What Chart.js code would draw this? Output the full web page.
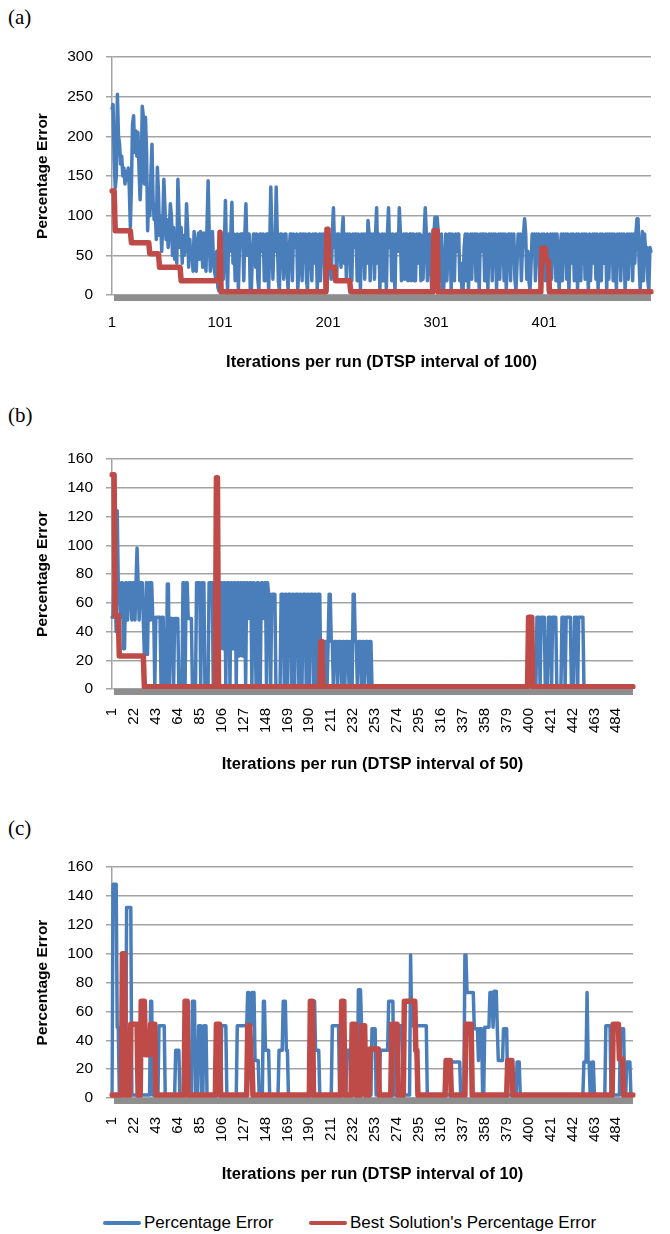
<!DOCTYPE html>
<html>
<head>
<meta charset="utf-8">
<script src="https://cdn.jsdelivr.net/npm/chart.js@4.4.1/dist/chart.umd.min.js"></script>
<style>
  body { margin: 0; background: #fff; }
  #page { position: relative; width: 670px; height: 1234px; overflow: hidden; background: #fff; }
  canvas { position: absolute; left: 0; }
  .panel { position: absolute; left: 8px; font-family: "Liberation Serif", "Times New Roman", serif; font-size: 21px; line-height: 1; color: #000; }
  #legend { position: absolute; top: 1212px; left: 0; width: 670px; height: 22px; font-family: "Liberation Sans", Arial, sans-serif; font-size: 17px; color: #000; }
  .key { position: absolute; top: 0; height: 22px; line-height: 22px; white-space: nowrap; }
  .swatch { display: inline-block; width: 38px; height: 4px; border-radius: 2px; vertical-align: middle; margin-right: 3px; position: relative; top: -1px; }
</style>
</head>
<body>
<div id="page">
  <div class="panel" style="top:7px">(a)</div>
  <canvas id="chartA" width="670" height="350" style="top:30px"></canvas>
  <div class="panel" style="top:405px">(b)</div>
  <canvas id="chartB" width="670" height="350" style="top:430px"></canvas>
  <div class="panel" style="top:818px">(c)</div>
  <canvas id="chartC" width="670" height="350" style="top:840px"></canvas>
  <div id="legend">
    <div class="key" style="left:103px"><span class="swatch" style="background:#4a7ebb"></span>Percentage Error</div>
    <div class="key" style="left:309px"><span class="swatch" style="background:#be4b48"></span>Best Solution's Percentage Error</div>
  </div>
</div>
<script>
// iterations 1..500 on the category axis
const iterations = Array.from({ length: 500 }, (_, i) => String(i + 1));

// tick labels shown on the x axes
const ticksA = ['1', '101', '201', '301', '401'];
const ticksBC = ['1', '22', '43', '64', '85', '106', '127', '148', '169', '190', '211', '232',
  '253', '274', '295', '316', '337', '358', '379', '400', '421', '442', '463', '484'];

// (a) percentage error, one value per iteration
const errorA = [
  235, 240, 170, 135, 150, 253, 200, 190, 165, 175, 150, 160, 140, 155, 145, 160, 135, 85, 140, 215,
  226, 180, 207, 175, 205, 160, 120, 150, 238, 225, 140, 224, 180, 81, 130, 100, 150, 190, 120, 95,
  110, 70, 161, 130, 75, 100, 55, 90, 146, 110, 70, 95, 60, 80, 115, 100, 50, 85, 45, 70,
  40, 146, 100, 60, 85, 40, 75, 50, 60, 115, 85, 35, 70, 45, 60, 30, 80, 50, 30, 65,
  78, 45, 80, 60, 35, 78, 55, 30, 90, 144, 75, 30, 55, 80, 40, 30, 20, 55, 10, 5,
  5, 40, 77, 20, 60, 119, 50, 5, 77, 55, 77, 117, 40, 77, 18, 55, 77, 5, 60, 77,
  77, 77, 18, 77, 115, 50, 77, 77, 5, 5, 55, 77, 77, 35, 77, 20, 5, 77, 77, 55,
  77, 18, 18, 77, 77, 5, 60, 136, 77, 20, 77, 55, 136, 77, 18, 5, 77, 77, 55, 20,
  77, 77, 40, 5, 55, 77, 77, 18, 77, 60, 60, 77, 5, 40, 77, 77, 18, 77, 55, 77,
  20, 5, 77, 77, 60, 18, 77, 40, 77, 77, 5, 55, 77, 18, 77, 60, 77, 20, 5, 5,
  40, 77, 55, 20, 77, 110, 60, 77, 18, 77, 77, 55, 35, 77, 98, 40, 77, 18, 77, 55,
  77, 18, 18, 77, 60, 77, 77, 18, 77, 55, 5, 77, 60, 77, 20, 77, 40, 94, 77, 18,
  77, 55, 77, 20, 77, 110, 40, 77, 5, 60, 77, 18, 77, 55, 5, 77, 110, 60, 77, 18,
  77, 40, 5, 77, 77, 55, 110, 77, 18, 60, 77, 20, 77, 77, 18, 75, 77, 18, 77, 77,
  18, 18, 77, 40, 77, 77, 18, 75, 20, 77, 110, 77, 18, 60, 77, 40, 5, 60, 77, 98,
  77, 98, 80, 18, 60, 77, 5, 5, 40, 77, 18, 55, 77, 77, 5, 77, 40, 18, 77, 55,
  77, 77, 18, 40, 5, 5, 60, 77, 18, 77, 5, 55, 77, 20, 77, 60, 77, 18, 77, 40,
  5, 77, 55, 77, 77, 18, 77, 60, 5, 77, 40, 77, 18, 77, 55, 77, 5, 60, 77, 20,
  77, 40, 77, 18, 77, 5, 55, 77, 77, 18, 77, 60, 77, 20, 5, 40, 77, 55, 77, 18,
  60, 77, 96, 77, 20, 55, 18, 5, 40, 77, 55, 77, 18, 77, 60, 77, 20, 5, 77, 55,
  77, 18, 60, 77, 5, 40, 77, 20, 77, 55, 77, 18, 77, 40, 5, 60, 77, 18, 77, 55,
  77, 20, 77, 5, 60, 77, 40, 77, 18, 55, 77, 5, 77, 60, 18, 77, 40, 77, 20, 77,
  55, 5, 77, 18, 60, 77, 40, 77, 20, 77, 5, 55, 77, 18, 77, 60, 40, 77, 5, 77,
  20, 77, 55, 77, 18, 77, 40, 5, 77, 60, 77, 18, 77, 55, 77, 5, 40, 77, 20, 77,
  60, 77, 18, 77, 40, 77, 96, 96, 40, 5, 60, 80, 18, 77, 55, 60, 20, 5, 60, 55
];

// step series: [first iteration index, value held until the next step]
const bestA = [[0, 131], [3, 81], [18, 66], [35, 52], [44, 35], [64, 18], [100, 79], [101, 4],
  [199, 83], [201, 35], [207, 18], [221, 4], [298, 81], [302, 4], [398, 59], [402, 43], [405, 4]];

const errorB = [[0, 50], [2, 74], [4, 40], [5, 124], [6, 74], [8, 50], [9, 74], [11, 28], [13, 74],
  [15, 48], [16, 74], [19, 48], [20, 74], [22, 48], [23, 74], [24, 98], [25, 74], [26, 48], [27, 74],
  [30, 48], [31, 24], [33, 74], [34, 24], [35, 74], [37, 48], [38, 74], [39, 50], [41, 2], [42, 50],
  [47, 2], [48, 50], [50, 2], [53, 73], [55, 2], [56, 49], [59, 2], [60, 49], [64, 2], [68, 74],
  [70, 2], [71, 74], [73, 49], [77, 2], [81, 74], [85, 2], [86, 74], [89, 2], [93, 74], [97, 2],
  [98, 74], [102, 2], [103, 74], [106, 28], [107, 74], [109, 2], [110, 74], [113, 2], [114, 74],
  [116, 28], [117, 74], [119, 2], [120, 74], [122, 23], [123, 74], [125, 23], [126, 74], [128, 2],
  [129, 74], [131, 49], [132, 74], [134, 2], [135, 74], [137, 49], [138, 2], [139, 74], [141, 2],
  [143, 74], [145, 49], [146, 74], [148, 2], [149, 74], [150, 66], [152, 2], [153, 66], [157, 2],
  [162, 66], [165, 2], [166, 66], [168, 2], [169, 66], [172, 2], [173, 66], [175, 2], [176, 66],
  [179, 2], [180, 66], [182, 2], [183, 66], [186, 2], [187, 66], [189, 2], [190, 66], [193, 2],
  [194, 66], [196, 2], [197, 66], [200, 2], [204, 33], [206, 2], [207, 33], [208, 66], [210, 33],
  [212, 2], [213, 33], [216, 2], [217, 33], [220, 2], [221, 33], [223, 2], [224, 33], [227, 2],
  [228, 33], [230, 2], [231, 66], [233, 33], [235, 2], [236, 33], [239, 2], [240, 33], [242, 2],
  [243, 33], [246, 2], [247, 33], [249, 2], [407, 50], [410, 2], [411, 50], [415, 2], [418, 50],
  [421, 2], [422, 50], [426, 2], [431, 50], [434, 2], [435, 50], [440, 2], [443, 50], [446, 2],
  [447, 50], [452, 2]];

const bestB = [[0, 149], [3, 51], [7, 23], [31, 1.5], [100, 147], [102, 1.5], [200, 33], [202, 1.5],
  [399, 50], [403, 1.5]];

const errorC = [[0, 2], [1, 148], [5, 49], [7, 2], [14, 132], [19, 2], [37, 67], [39, 2], [45, 50],
  [51, 2], [61, 33], [65, 2], [77, 67], [80, 2], [83, 50], [86, 2], [88, 50], [91, 2], [105, 50],
  [110, 2], [120, 50], [130, 73], [132, 50], [134, 73], [137, 26], [141, 2], [145, 67], [147, 33],
  [151, 2], [160, 33], [164, 67], [167, 33], [169, 2], [193, 67], [195, 33], [199, 2], [211, 50],
  [218, 2], [225, 33], [229, 2], [236, 75], [239, 50], [243, 2], [246, 26], [248, 2], [249, 48],
  [253, 2], [257, 33], [265, 67], [270, 2], [275, 50], [279, 2], [286, 99], [287, 50], [302, 2],
  [325, 25], [334, 2], [338, 99], [340, 73], [347, 48], [351, 26], [352, 48], [355, 2], [357, 49],
  [362, 73], [365, 49], [366, 74], [369, 49], [370, 26], [375, 48], [379, 2], [388, 25], [391, 2],
  [452, 25], [455, 73], [456, 25], [458, 2], [460, 25], [462, 2], [473, 50], [478, 2], [487, 48],
  [491, 2], [493, 25], [497, 2]];

const bestC = [[0, 2], [10, 100], [13, 2], [18, 51], [25, 2], [28, 67], [32, 30], [37, 51], [42, 2],
  [70, 67], [73, 2], [100, 51], [104, 2], [130, 50], [133, 26], [135, 2], [190, 67], [193, 2],
  [220, 67], [223, 2], [230, 51], [234, 2], [239, 50], [243, 2], [247, 34], [256, 2], [268, 51],
  [274, 2], [280, 67], [291, 33], [293, 2], [320, 26], [325, 2], [339, 51], [345, 2], [379, 26],
  [384, 2], [480, 51], [486, 27], [490, 2]];

const BLUE = '#4a7ebb';
const RED = '#be4b48';
const GRID = '#a3a3a3';
const FONT = '"Liberation Sans", Arial, sans-serif';

function fromSteps(steps) {
  const out = [];
  let k = 0;
  for (let i = 0; i < iterations.length; i++) {
    while (k + 1 < steps.length && steps[k + 1][0] <= i) k++;
    out.push(steps[k][1]);
  }
  return out;
}

// grey floor under the zero line
const floorBand = {
  id: 'floorBand',
  beforeDatasetsDraw(chart) {
    const { ctx, chartArea } = chart;
    ctx.save();
    ctx.fillStyle = '#8e8e8e';
    ctx.fillRect(chartArea.left + 2, chartArea.bottom, chartArea.right - chartArea.left - 2, 6);
    ctx.restore();
  }
};

function makeChart(id, blue, red, o) {
  return new Chart(document.getElementById(id), {
    type: 'line',
    data: {
      labels: iterations,
      datasets: [
        { label: 'Percentage Error', data: blue, borderColor: BLUE, borderWidth: 3.5, order: 2 },
        { label: "Best Solution's Percentage Error", data: red, borderColor: RED, borderWidth: 5.5, order: 1 }
      ]
    },
    options: {
      responsive: false,
      animation: false,
      events: [],
      layout: { padding: { left: 29, right: 12, top: o.top, bottom: 0 } },
      elements: {
        point: { radius: 0 },
        line: { tension: 0, fill: false, borderJoinStyle: 'round', borderCapStyle: 'round' }
      },
      plugins: { legend: { display: false }, tooltip: { enabled: false } },
      scales: {
        x: {
          grid: { display: false, drawTicks: false },
          border: { display: false },
          afterFit: function (scale) { scale.height = o.xh; },
          ticks: {
            autoSkip: false,
            maxRotation: o.rot,
            minRotation: o.rot,
            padding: o.tpad,
            color: '#000',
            font: { size: 15, family: FONT },
            callback: function (value, index) {
              const l = iterations[index];
              return o.ticks.includes(l) ? l : '';
            }
          },
          title: {
            display: true,
            text: o.title,
            color: '#000',
            font: { size: 16.5, weight: 'bold', family: FONT },
            padding: { top: 0, bottom: o.tbp }
          }
        },
        y: {
          min: 0,
          max: o.max,
          afterFit: function (scale) { scale.width = 83; },
          ticks: { stepSize: o.step, padding: 13, color: '#000', font: { size: 15.5, family: FONT } },
          grid: { color: GRID, lineWidth: 1.5, tickLength: 6 },
          border: { color: GRID, width: 1.5 },
          title: {
            display: true,
            text: 'Percentage Error',
            color: '#000',
            font: { size: 15.5, weight: 'bold', family: FONT },
            padding: { top: 4, bottom: 4 }
          }
        }
      }
    },
    plugins: [floorBand]
  });
}

makeChart('chartA', errorA, fromSteps(bestA), {
  top: 27, xh: 85, rot: 0, tpad: 19, tbp: 8, max: 300, step: 50, ticks: ticksA,
  title: 'Iterations per run (DTSP interval of 100)'
});
makeChart('chartB', fromSteps(errorB), fromSteps(bestB), {
  top: 29, xh: 91, rot: 90, tpad: 19, tbp: 6, max: 160, step: 20, ticks: ticksBC,
  title: 'Iterations per run (DTSP interval of 50)'
});
makeChart('chartC', fromSteps(errorC), fromSteps(bestC), {
  top: 27, xh: 92, rot: 90, tpad: 19, tbp: 6, max: 160, step: 20, ticks: ticksBC,
  title: 'Iterations per run (DTSP interval of 10)'
});
</script>
</body>
</html>
